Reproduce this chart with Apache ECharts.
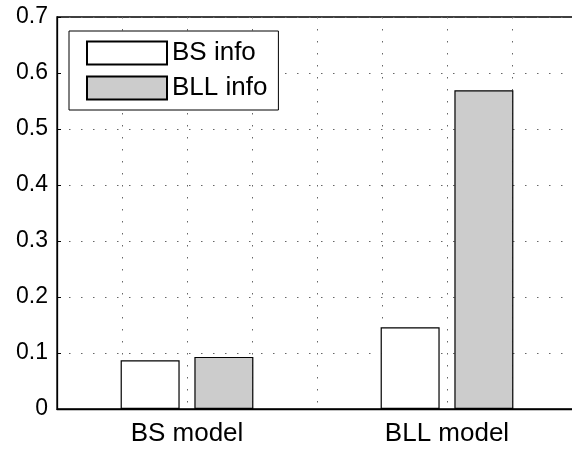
<!DOCTYPE html>
<html>
<head>
<meta charset="utf-8">
<script src="https://cdn.jsdelivr.net/npm/echarts@6/dist/echarts.min.js"></script>
<style>
  html, body { margin: 0; padding: 0; background: #fff; overflow: hidden; }
  #chart { width: 577px; height: 450px; }
</style>
</head>
<body>
<div id="chart"></div>
<script>
// categories sit at x = 1, 2 (axis runs 0.5 .. 2.5 like the original, right edge cropped)
var categories = ['BS model', 'BLL model'];
var catPos = [1, 2];
var seriesNames = ['BS info', 'BLL info'];
var bsInfo = [0.087, 0.146];
var bllInfo = [0.093, 0.569];
var yTicks = [0, 0.1, 0.2, 0.3, 0.4, 0.5, 0.6, 0.7];

function pairs(vals) {
  return vals.map(function (v, i) { return [catPos[i], v]; });
}

var font = 'Liberation Sans, Arial, sans-serif';
var gridLine = { show: true, lineStyle: { color: '#666', type: [1.5, 10.5], width: 1 } };

var myChart = echarts.init(document.getElementById('chart'));
var option = {
  backgroundColor: '#fff',
  animation: false,
  grid: {
    left: 57, top: 17, right: 0, bottom: 41,
    show: true, borderColor: '#000', borderWidth: 1.3, backgroundColor: 'transparent'
  },
  legend: {
    orient: 'vertical',
    left: 69, top: 31,
    icon: 'rect',
    itemWidth: 80, itemHeight: 23, itemGap: 9,
    padding: [9, 11, 9, 17],
    borderColor: '#000', borderWidth: 1, backgroundColor: '#fff',
    textStyle: { color: '#000', fontSize: 26, lineHeight: 23, fontFamily: font },
    data: seriesNames
  },
  xAxis: {
    type: 'value',
    min: 0.5, max: 2.5, interval: 0.25,
    axisLine: { show: true, lineStyle: { color: '#000', width: 1.3 } },
    axisTick: { show: false },
    splitLine: gridLine,
    axisLabel: {
      color: '#000', fontSize: 26, fontFamily: font, margin: 12,
      showMinLabel: false, showMaxLabel: false,
      formatter: function (v) {
        var i = catPos.indexOf(Math.round(v * 100) / 100);
        return i >= 0 ? categories[i] : '';
      }
    }
  },
  yAxis: {
    type: 'value',
    min: yTicks[0], max: yTicks[yTicks.length - 1], interval: 0.1,
    axisLine: { show: true, lineStyle: { color: '#000', width: 1.3 } },
    axisTick: { show: true, inside: true, length: 4, lineStyle: { color: '#000' } },
    splitLine: gridLine,
    axisLabel: {
      color: '#000', fontSize: 23, fontFamily: font, margin: 9,
      formatter: function (v) { return String(Math.round(v * 10) / 10); }
    }
  },
  series: [
    {
      name: seriesNames[0],
      type: 'bar',
      barWidth: 59,
      barGap: '25%',
      data: pairs(bsInfo),
      itemStyle: { color: '#fff', borderColor: '#000', borderWidth: 1.2 }
    },
    {
      name: seriesNames[1],
      type: 'bar',
      barWidth: 59,
      barGap: '25%',
      data: pairs(bllInfo),
      itemStyle: { color: '#cccccc', borderColor: '#000', borderWidth: 1.2 }
    }
  ]
};
myChart.setOption(option);
</script>
</body>
</html>
